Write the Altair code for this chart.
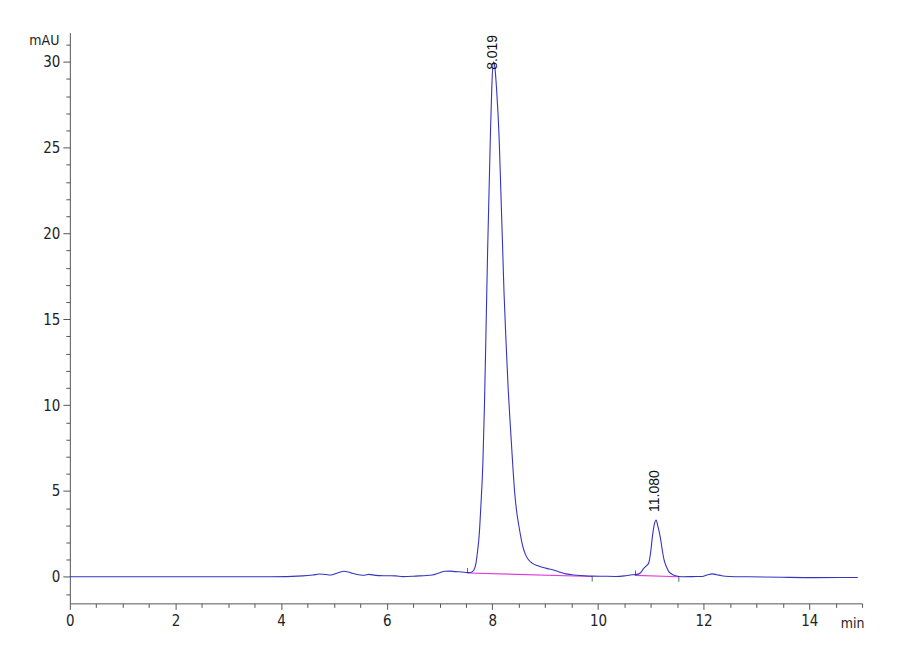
import altair as alt
import pandas as pd

# chromatogram trace (min, mAU)
times = [0.0, 1.0, 2.0, 3.0, 3.8, 4.41, 4.6, 4.73, 4.85, 4.92, 5.0, 5.1, 5.19, 5.27, 5.35,
         5.5, 5.58, 5.66, 5.79, 6.0, 6.17, 6.3, 6.55, 6.86, 6.99, 7.1, 7.19, 7.3, 7.42, 7.53,
         7.60, 7.65, 7.69, 7.72, 7.75, 7.78, 7.82, 7.85, 7.88, 7.91, 7.96, 7.99, 8.02, 8.05,
         8.08, 8.13, 8.16, 8.19, 8.22, 8.26, 8.30, 8.34, 8.38, 8.42, 8.46, 8.50, 8.54, 8.57,
         8.62, 8.67, 8.76, 8.85, 8.95, 9.08, 9.2, 9.3, 9.39, 9.5, 9.6, 9.75, 9.89, 10.1,
         10.33, 10.5, 10.61, 10.74, 10.80, 10.87, 10.92, 10.96, 11.0, 11.03, 11.07, 11.10,
         11.13, 11.18, 11.22, 11.25, 11.30, 11.34, 11.40, 11.47, 11.59, 11.8, 11.97, 12.08,
         12.16, 12.25, 12.34, 12.5, 12.85, 13.48, 14.1, 14.92]
mau = [0.0, 0.0, 0.0, 0.0, 0.0, 0.05, 0.1, 0.16, 0.13, 0.1, 0.15, 0.25, 0.32, 0.28, 0.2,
       0.1, 0.09, 0.14, 0.08, 0.06, 0.05, 0.01, 0.04, 0.1, 0.22, 0.32, 0.33, 0.3, 0.28, 0.24,
       0.26, 0.4, 0.8, 1.5, 2.4, 4.0, 6.6, 10.0, 14.4, 19.0, 25.4, 28.6, 30.0, 29.6,
       28.4, 25.4, 22.5, 19.6, 16.6, 13.6, 10.9, 8.8, 6.8, 5.0, 3.8, 3.0, 2.3, 1.85,
       1.35, 1.05, 0.78, 0.65, 0.55, 0.45, 0.35, 0.25, 0.17, 0.12, 0.09, 0.06, 0.04, 0.03,
       0.02, 0.05, 0.1, 0.14, 0.22, 0.5, 0.65, 0.8, 1.5, 2.34, 3.1, 3.31,
       3.0, 2.3, 1.5, 1.0, 0.55, 0.3, 0.15, 0.06, 0.0, 0.01, 0.02, 0.12,
       0.17, 0.12, 0.06, 0.02, 0.0, -0.03, -0.05, -0.04]

# integration baselines
base_peak = ["8.019", "8.019", "11.080", "11.080"]
base_t = [7.53, 9.89, 10.71, 11.53]
base_v = [0.22, 0.02, 0.08, 0.0]

# peak labels
peak_rt = [8.019, 11.080]
peak_h = [30.0, 3.31]
peak_lab = ["8.019", "11.080"]

x_ticks = [i * 0.5 for i in range(0, 31)]
y_ticks = list(range(-1, 32))

trace = pd.DataFrame({"t": times, "v": mau})
base = pd.DataFrame({"peak": base_peak, "t": base_t, "v": base_v})
starts = base.iloc[[0, 2]]
ends = base.iloc[[1, 3]]
labels = pd.DataFrame({"t": peak_rt, "v": peak_h, "lab": peak_lab})

FONT = "'Liberation Sans Narrow', 'DejaVu Sans Condensed', 'Liberation Sans', sans-serif"
LFONT = "'Liberation Sans', Arial, sans-serif"

xscale = alt.Scale(domain=[0, 15], nice=False, zero=False)
yscale = alt.Scale(domain=[-1.55, 31.7], nice=False, zero=False)

xaxis = alt.Axis(
    values=x_ticks, tickCount=200, format="~g", grid=False,
    domainColor="#555555", tickColor="#555555",
    tickSize={"condition": {"test": "datum.value % 2 === 0", "value": 6}, "value": 4},
    labelExpr="datum.value % 2 === 0 ? datum.label : ''",
    labelFont=FONT, labelFontSize=15, labelColor="#222222", labelPadding=4,
    labelFlush=False, labelOverlap=False,
    title="min", titleFont=FONT, titleFontSize=14, titleFontWeight="normal",
    titleColor="#222222", titleAnchor="end", titleAlign="right", titleAngle=0,
    titleX=796, titleY=20, titleBaseline="middle",
)
yaxis = alt.Axis(
    values=y_ticks, tickCount=200, format="~g", grid=False,
    domainColor="#555555", tickColor="#555555",
    tickSize={"condition": {"test": "datum.value % 5 === 0", "value": 7}, "value": 4},
    labelExpr="datum.value % 5 === 0 ? datum.label : ''",
    labelFont=FONT, labelFontSize=15, labelColor="#222222", labelPadding=3,
    labelFlush=False, labelOverlap=False,
    title="mAU", titleFont=FONT, titleFontSize=14, titleFontWeight="normal",
    titleColor="#222222", titleAngle=0, titleAlign="right", titleBaseline="middle",
    titleX=-11, titleY=8,
)

line = alt.Chart(trace).mark_line(color="#3535c0", strokeWidth=1.1, interpolate="monotone").encode(
    x=alt.X("t:Q", scale=xscale, axis=xaxis),
    y=alt.Y("v:Q", scale=yscale, axis=yaxis),
)

bl = alt.Chart(base).mark_line(color="#e03ce0", strokeWidth=1.1).encode(
    x="t:Q", y="v:Q", detail="peak:N"
)

tick_up = alt.Chart(starts).mark_tick(color="#222222", orient="vertical", size=5,
                                       thickness=1, yOffset=-2.5).encode(x="t:Q", y="v:Q")
tick_dn = alt.Chart(ends).mark_tick(color="#222222", orient="vertical", size=5,
                                     thickness=1, yOffset=2.5).encode(x="t:Q", y="v:Q")

lab1 = alt.Chart(labels.iloc[[0]]).mark_text(
    angle=270, align="left", baseline="middle", font=LFONT, fontSize=14,
    color="#111111", dx=-8
).encode(x="t:Q", y="v:Q", text="lab:N")
lab2 = alt.Chart(labels.iloc[[1]]).mark_text(
    angle=270, align="left", baseline="middle", font=LFONT, fontSize=14,
    color="#111111", dx=8
).encode(x="t:Q", y="v:Q", text="lab:N")

chart = alt.layer(bl, line, tick_up, tick_dn, lab1, lab2).properties(
    width=794, height=572,
    autosize=alt.AutoSizeParams(type="none"),
    padding={"left": 62, "top": 24, "right": 30, "bottom": 40},
    background="white",
).configure_view(stroke=None)

chart.save("out.html", embed_options={"renderer": "svg", "actions": False})
